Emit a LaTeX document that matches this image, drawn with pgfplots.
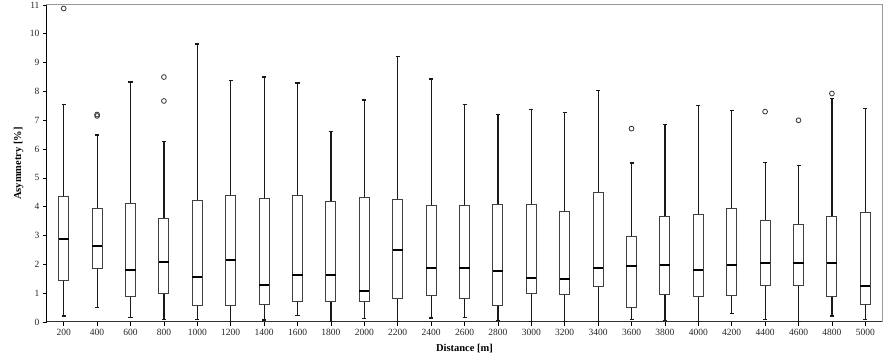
\documentclass[border=0pt]{standalone}
\usepackage{fontspec}
\setmainfont{Liberation Serif}
\usepackage{pgfplots}
\pgfplotsset{compat=1.18}
\usepgfplotslibrary{statistics}
\usetikzlibrary{calc}
\newcommand{\bx}[7]{%
\addplot[black!85, line width=1pt, mark=o, mark size=2.4pt, mark options={black!80, line width=0.8pt, fill=white},
  boxplot/draw direction=y,
  boxplot prepared={draw position=#1, lower whisker=#2, lower quartile=#3, median=#4, upper quartile=#5, upper whisker=#6,
  box extend=0.3, whisker extend=0.12,
  every box/.style={draw=black!75, line width=0.9pt, fill=white},
  every median/.style={black, line width=2pt},
  every whisker/.style={black!90, line width=1.2pt}}] coordinates {#7};}
\begin{document}
\begin{tikzpicture}
\begin{axis}[
  scale only axis, width=835pt, height=317pt,
  xmin=-0.5, xmax=24.5, ymin=0, ymax=11,
  xtick={0,...,24},
  xticklabels={200,400,600,800,1000,1200,1400,1600,1800,2000,2200,2400,2600,2800,3000,3200,3400,3600,3800,4000,4200,4400,4600,4800,5000},
  ytick={0,...,11},
  tick align=outside, xtick pos=bottom, ytick pos=left,
  major tick length=4pt,
  tick style={black, line width=0.8pt},
  axis line style={gray!80, line width=1pt},
  /pgf/number format/assume math mode=true,
  ticklabel style={font=\fontsize{9.5}{11}\selectfont, text=black!85},
  xlabel={Distance [m]}, ylabel={Asymmetry [\%]},
  label style={font=\fontsize{10.5}{12}\selectfont\bfseries},
  xlabel style={at={(axis description cs:0.5,-0.085)}, anchor=center},
  ylabel style={at={(axis description cs:-0.034,0.5)}, anchor=center},
  clip=false,
]
\draw[black, line width=1pt] (axis cs:-0.5,0) -- (axis cs:-0.5,11);
\draw[black!80, line width=1pt] (axis cs:-0.5,0) -- (axis cs:24.5,0);
\bx{0}{0.21}{1.45}{2.87}{4.35}{7.56}{(0,10.88)}
\bx{1}{0.51}{1.85}{2.63}{3.95}{6.49}{(1,7.15) (1,7.20)}
\bx{2}{0.16}{0.90}{1.79}{4.12}{8.33}{}
\bx{3}{0.09}{0.98}{2.07}{3.58}{6.26}{(3,8.50) (3,7.67)}
\bx{4}{0.09}{0.56}{1.57}{4.22}{9.65}{}
\bx{5}{0.02}{0.58}{2.14}{4.39}{8.39}{}
\bx{6}{0.07}{0.61}{1.30}{4.27}{8.50}{}
\bx{7}{0.23}{0.72}{1.63}{4.39}{8.29}{}
\bx{8}{0.03}{0.72}{1.63}{4.19}{6.61}{}
\bx{9}{0.13}{0.72}{1.08}{4.33}{7.70}{}
\bx{10}{0.01}{0.82}{2.51}{4.26}{9.21}{}
\bx{11}{0.14}{0.93}{1.88}{4.03}{8.43}{}
\bx{12}{0.16}{0.82}{1.86}{4.03}{7.56}{}
\bx{13}{0.05}{0.56}{1.78}{4.07}{7.19}{}
\bx{14}{0.01}{1.00}{1.54}{4.09}{7.36}{}
\bx{15}{0.01}{0.94}{1.49}{3.82}{7.27}{}
\bx{16}{0.01}{1.23}{1.88}{4.50}{8.02}{}
\bx{17}{0.10}{0.52}{1.94}{2.97}{5.52}{(17,6.71)}
\bx{18}{0.05}{0.97}{1.98}{3.66}{6.86}{}
\bx{19}{0.01}{0.90}{1.82}{3.74}{7.52}{}
\bx{20}{0.30}{0.91}{1.97}{3.94}{7.33}{}
\bx{21}{0.10}{1.28}{2.04}{3.53}{5.54}{(21,7.30)}
\bx{22}{0.01}{1.27}{2.05}{3.38}{5.44}{(22,7.00)}
\bx{23}{0.21}{0.89}{2.03}{3.66}{7.75}{(23,7.93)}
\bx{24}{0.10}{0.61}{1.26}{3.80}{7.42}{}
\end{axis}
\pgfresetboundingbox
\useasboundingbox ($(current axis.south west)+(-47pt,-39pt)$) rectangle ($(current axis.north east)+(9pt,5pt)$);
\end{tikzpicture}
\end{document}
